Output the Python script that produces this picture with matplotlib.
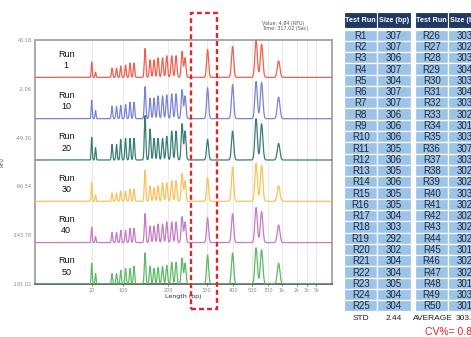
import numpy as np
import matplotlib
matplotlib.use("Agg")
import matplotlib.pyplot as plt
import matplotlib.transforms as mtransforms
from matplotlib.patches import Rectangle

# ---- electropherogram data -------------------------------------------------
# migration time axis (s) labelled with fragment size
time_range = (60, 535)
x_tick_time = [151, 201, 273, 335, 377, 407, 433, 455, 479, 495, 510]
x_tick_labels = ["20", "100", "200", "300", "400", "500", "700", "1k", "2k", "3k", "5k"]
y_tick_rfu = [45.18, -2.06, -49.30, -96.54, -143.78, -191.02]

# peak migration times shared by all runs
peak_times = [150.7, 156.8, 183.2, 190.4, 197.1, 204.8, 212.0, 218.4, 236.0, 244.0,
              250.4, 256.8, 264.0, 270.7, 278.7, 285.6, 295.2, 300.0, 336.0, 376.0,
              413.6, 422.4, 449.6]

run_names = ["Run\n1", "Run\n10", "Run\n20", "Run\n30", "Run\n40", "Run\n50"]
rfu_run1 = [15, 5, 9, 9, 11, 12, 14, 14, 28, 17, 17, 19, 19, 21, 21, 21, 25, 19, 27, 30, 36, 32, 16]
rfu_run10 = [18, 8, 12, 12, 13, 14, 16, 16, 31, 20, 20, 22, 22, 23, 24, 24, 28, 22, 30, 33, 36, 35, 21]
rfu_run20 = [22, 12, 15, 15, 20, 21, 21, 21, 43, 30, 21, 21, 21, 23, 28, 28, 35, 28, 20, 28, 40, 35, 16]
rfu_run30 = [18, 6, 8, 8, 10, 10, 12, 12, 30, 15, 13, 15, 18, 18, 20, 20, 27, 20, 23, 33, 37, 35, 15]
rfu_run40 = [15, 6, 10, 10, 12, 12, 14, 14, 28, 16, 16, 18, 18, 20, 20, 20, 25, 20, 24, 28, 34, 30, 17]
rfu_run50 = [20, 10, 10, 10, 13, 15, 15, 17, 30, 17, 15, 16, 17, 18, 21, 21, 25, 20, 28, 30, 35, 33, 20]
run_rfu = [rfu_run1, rfu_run10, rfu_run20, rfu_run30, rfu_run40, rfu_run50]
run_colors = ["#F0604F", "#7B84D2", "#3A7F74", "#F7C35C", "#C47DC5", "#5DBA66"]

top_baseline = 9.0
trace_step = 40.0
sized_window = (310, 351)   # time window of the sized fragment

# ---- sizing table ----------------------------------------------------------
run_ids = [f"R{i}" for i in range(1, 51)]
size_bp_r1_r25 = [307, 307, 306, 307, 304, 307, 307, 306, 306, 306, 305, 306, 305,
                  306, 305, 305, 304, 303, 292, 302, 304, 304, 305, 304, 304]
size_bp_r26_r50 = [303, 302, 303, 304, 303, 304, 303, 302, 301, 303, 307, 303, 302,
                   302, 303, 302, 302, 302, 302, 301, 302, 302, 301, 303, 301]
std_bp = 2.44
average_bp = np.mean(size_bp_r1_r25 + size_bp_r26_r50)
cv_pct = std_bp / average_bp * 100

# ---- figure ----------------------------------------------------------------
W, H = 471, 337
fig = plt.figure(figsize=(W / 100, H / 100), dpi=100)
fig.patch.set_facecolor("white")

ax = fig.add_axes([35 / W, 1 - 284 / H, 297 / W, 244 / H])
t = np.linspace(*time_range, 6000)
blend_y = mtransforms.blended_transform_factory(ax.transAxes, ax.transData)
for i, (heights, color, name) in enumerate(zip(run_rfu, run_colors, run_names)):
    base = top_baseline - i * trace_step
    y = np.full_like(t, base)
    for p, h in zip(peak_times, heights):
        sigma = 0.8 + (p - 150) / 300 * 1.3
        y += h * np.exp(-0.5 * ((t - p) / sigma) ** 2)
    ax.plot(t, y, color=color, lw=0.9, zorder=3)
    ax.text(0.105, base + 17, name, transform=blend_y, ha="center", va="center",
            fontsize=6.5, color="#111111", linespacing=1.35, family="Liberation Sans")

ax.set_xlim(*time_range)
ax.set_ylim(-191.1, 45.2)
ax.set_xticks(x_tick_time)
ax.set_xticklabels(x_tick_labels)
ax.set_yticks(y_tick_rfu)
ax.set_yticklabels([f"{v:.2f}" for v in y_tick_rfu])
ax.tick_params(axis="x", labelsize=3.6, colors="#888888", length=1.5, pad=1.5)
ax.tick_params(axis="y", labelsize=3.6, colors="#888888", length=0, pad=2)
ax.grid(axis="x", color="#e6e6e6", lw=0.6, zorder=0)
ax.set_xlabel("Length (bp)", fontsize=4.5, color="#333333", labelpad=0.5)
ax.set_ylabel("RFU", fontsize=3.6, color="#555555", labelpad=6)
for side in ("left", "top", "right"):
    ax.spines[side].set_color("#a3a3a3")
    ax.spines[side].set_linewidth(1.3)
ax.spines["bottom"].set_color("#444444")
ax.spines["bottom"].set_linewidth(1.1)

# highlight of the sized fragment
blend_x = mtransforms.blended_transform_factory(ax.transData, fig.transFigure)
ax.add_patch(Rectangle((sized_window[0], 1 - 309 / H), sized_window[1] - sized_window[0],
                       (309 - 13) / H, transform=blend_x, fill=False, ec="#E0262B",
                       lw=1.7, ls=(0, (2.1, 1.3)), clip_on=False, zorder=5))

fig.text(262 / W, 1 - 21 / H, "Value: 4.84 (RFU)\nTime: 317.02 (Sec)", fontsize=3.5,
         color="#555555", va="top", ha="left", linespacing=1.1)

# ---- table -----------------------------------------------------------------
sans = "Liberation Sans"
tax = fig.add_axes([344 / W, 0, 137 / W, (H - 12) / H])
col_w = 33.3
tax.set_xlim(0, 137 / col_w)
tax.set_ylim((H - 29.5) / 11.28, -(29.5 - 12) / 11.28)
tax.axis("off")
col_left = [0, 1, 71 / col_w, 71 / col_w + 1]
headers = ["Test Run", "Size (bp)", "Test Run", "Size (bp)"]
for cl, hd in zip(col_left, headers):
    tax.add_patch(Rectangle((cl, -1.55), 1, 1.45, fc="#1F3864", ec="white", lw=0.8, clip_on=False))
    tax.text(cl + 0.5, -0.82, hd, ha="center", va="center", fontsize=5.2, color="white",
             fontweight="bold", family=sans, clip_on=False)

columns = [run_ids[:25], [str(v) for v in size_bp_r1_r25],
           run_ids[25:], [str(v) for v in size_bp_r26_r50]]
for cl, vals in zip(col_left, columns):
    for r, v in enumerate(vals):
        tax.add_patch(Rectangle((cl, r), 1, 1, fc="#9DC3E6", ec="white", lw=0.9, clip_on=False))
        tax.text(cl + 0.5, r + 0.55, v, ha="center", va="center", fontsize=7,
                 color="#1B2A41", family=sans, clip_on=False)

foot_y = (319 - 29.5) / 11.28
tax.text(col_left[0] + 0.5, foot_y, "STD", ha="center", va="center", fontsize=6,
         color="#222222", clip_on=False, family=sans)
tax.text(col_left[1] + 0.5, foot_y, f"{std_bp:.2f}", ha="center", va="center", fontsize=6,
         color="#222222", clip_on=False, family=sans)
tax.text((453 - 344) / col_w, foot_y, "AVERAGE", ha="right", va="center", fontsize=6,
         color="#222222", clip_on=False, family=sans)
tax.text((456 - 344) / col_w, foot_y, f"{average_bp:.2f}", ha="left", va="center", fontsize=6,
         color="#222222", clip_on=False, family=sans)
tax.text((425 - 344) / col_w, (332 - 29.5) / 11.28, f"CV%= {cv_pct:.2f}%", ha="left",
         va="center", fontsize=7.5, color="#E8202A", clip_on=False, family=sans)

fig.savefig("out.png", dpi=100)
